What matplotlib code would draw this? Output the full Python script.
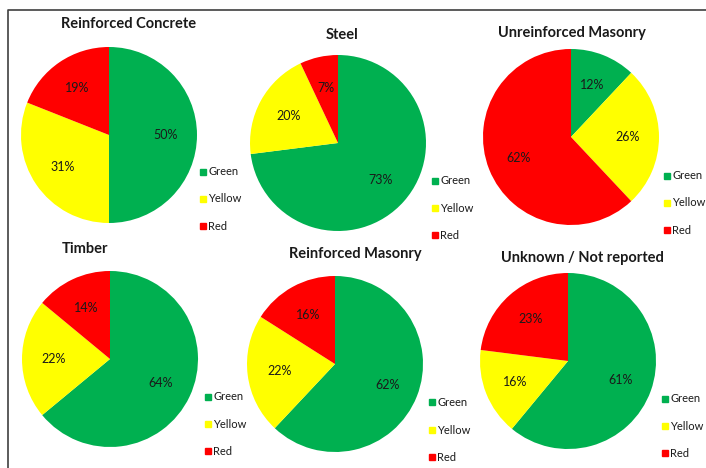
import matplotlib.pyplot as plt
from matplotlib.lines import Line2D

plt.rcParams['font.family'] = ['Lato', 'DejaVu Sans']

# data
titles = ["Reinforced Concrete", "Steel", "Unreinforced Masonry",
          "Timber", "Reinforced Masonry", "Unknown / Not reported"]
categories = ["Green", "Yellow", "Red"]
green = [50, 73, 12, 64, 62, 61]
yellow = [31, 20, 26, 22, 22, 16]
red = [19, 7, 62, 14, 16, 23]

colors = ["#00B050", "#FFFF00", "#FF0000"]

W, H = 706, 468
fig = plt.figure(figsize=(W / 100, H / 100), dpi=100)

# layout in pixels: pie centre, radius, title pos, legend pos (square left x, middle row y)
pie_centres = [(109, 135), (338, 143), (571, 137), (110, 359), (335, 364), (568, 361)]
radius = 88
title_pos = [(129, 24), (342, 35), (572, 33), (85, 249), (355, 254), (582, 258)]
legend_pos = [(200, 199), (432, 208), (664, 203), (205, 424), (429, 430), (662, 426)]

for i in range(6):
    cx, cy = pie_centres[i]
    ax = fig.add_axes([(cx - radius) / W, (H - cy - radius) / H,
                       2 * radius / W, 2 * radius / H])
    vals = [green[i], yellow[i], red[i]]
    wedges, texts, autotexts = ax.pie(vals, colors=colors, startangle=90,
                                      counterclock=False, autopct='%1.0f%%',
                                      pctdistance=0.64,
                                      textprops={'fontsize': 9, 'color': '#1a1a1a'},
                                      wedgeprops={'linewidth': 0})
    ax.set_xlim(-1, 1)
    ax.set_ylim(-1, 1)

    tx, ty = title_pos[i]
    fig.text(tx / W, 1 - ty / H, titles[i], ha='center', va='center',
             fontsize=10.5, fontweight='bold', color='#1a1a1a')

    lx, ly = legend_pos[i]
    handles = [Line2D([], [], marker='s', linestyle='', markersize=4.8,
                      color=c) for c in colors]
    fig.legend(handles, categories, loc='center left',
               bbox_to_anchor=(lx / W, 1 - ly / H), frameon=False,
               fontsize=8, labelspacing=1.45, handlelength=0.55,
               handletextpad=0.2, borderpad=0, borderaxespad=0,
               labelcolor='#1a1a1a')

# outer border lines (left and top)
fig.add_artist(Line2D([8 / W, 8 / W, 1], [0, 1 - 10 / H, 1 - 10 / H],
                      transform=fig.transFigure, color='#404040', linewidth=1.2))

fig.savefig("out.png", dpi=100)
